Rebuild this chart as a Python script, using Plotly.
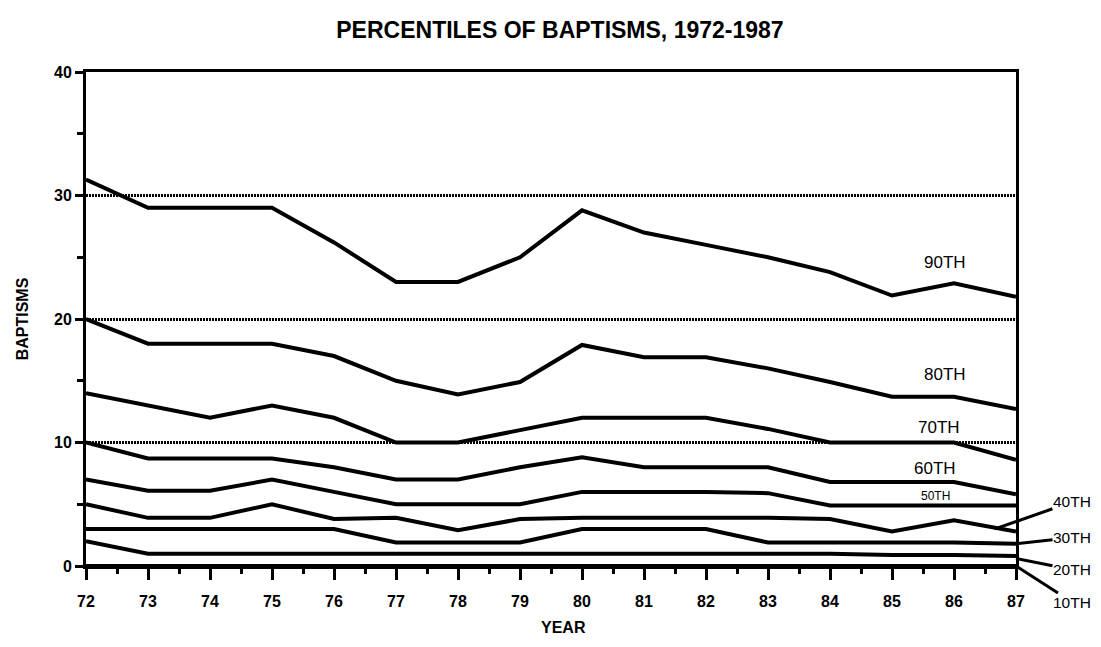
import plotly.graph_objects as go

years = list(range(72, 88))
p90 = [31.3, 29.0, 29.0, 29.0, 26.2, 23.0, 23.0, 25.0, 28.8, 27.0, 26.0, 25.0, 23.8, 21.9, 22.9, 21.8]
p80 = [20.0, 18.0, 18.0, 18.0, 17.0, 15.0, 13.9, 14.9, 17.9, 16.9, 16.9, 16.0, 14.9, 13.7, 13.7, 12.7]
p70 = [14.0, 13.0, 12.0, 13.0, 12.0, 10.0, 10.0, 11.0, 12.0, 12.0, 12.0, 11.1, 10.0, 10.0, 10.0, 8.6]
p60 = [10.0, 8.7, 8.7, 8.7, 8.0, 7.0, 7.0, 8.0, 8.8, 8.0, 8.0, 8.0, 6.8, 6.8, 6.8, 5.8]
p50 = [7.0, 6.1, 6.1, 7.0, 6.0, 5.0, 5.0, 5.0, 6.0, 6.0, 6.0, 5.9, 4.9, 4.9, 4.9, 4.9]
p40 = [5.0, 3.9, 3.9, 5.0, 3.8, 3.9, 2.9, 3.8, 3.9, 3.9, 3.9, 3.9, 3.8, 2.8, 3.7, 2.8]
p30 = [3.0, 3.0, 3.0, 3.0, 3.0, 1.9, 1.9, 1.9, 3.0, 3.0, 3.0, 1.9, 1.9, 1.9, 1.9, 1.8]
p20 = [2.0, 1.0, 1.0, 1.0, 1.0, 1.0, 1.0, 1.0, 1.0, 1.0, 1.0, 1.0, 1.0, 0.9, 0.9, 0.8]
p10 = [0.0] * 16

series = [("90TH", p90), ("80TH", p80), ("70TH", p70), ("60TH", p60), ("50TH", p50),
          ("40TH", p40), ("30TH", p30), ("20TH", p20), ("10TH", p10)]

x_tick_labels = [str(y) for y in years]
y_tick_vals = [0, 10, 20, 30, 40]
y_tick_labels = ["0", "10", "20", "30", "40"]
FONT = "Arial, Liberation Sans, Helvetica, sans-serif"

fig = go.Figure()
for name, vals in series:
    fig.add_trace(go.Scatter(x=years, y=vals, mode="lines", name=name,
                             line=dict(color="black", width=4),
                             cliponaxis=False, showlegend=False))

inner = [("90TH", 85.85, 24.6, 17), ("80TH", 85.85, 15.5, 17), ("70TH", 85.75, 11.2, 17),
         ("60TH", 85.7, 7.9, 17), ("50TH", 85.7, 5.7, 12)]
annotations = []
for txt, x, y, sz in inner:
    annotations.append(dict(x=x, y=y, xref="x", yref="y", text=txt, showarrow=False,
                            font=dict(family=FONT, size=sz, color="black")))

outer = [("40TH", 86.66, 3.0, 77, -27), ("30TH", 87, 1.8, 56, -6),
         ("20TH", 87, 0.6, 56, 11), ("10TH", 87, 0.0, 56, 36)]
for txt, x, y, ax, ay in outer:
    annotations.append(dict(x=x, y=y, xref="x", yref="y", text=txt, showarrow=True,
                            arrowhead=0, arrowwidth=3, arrowcolor="black", borderpad=0,
                            ax=ax, ay=ay, font=dict(family=FONT, size=15.5, color="black")))

# x-axis title placed as a paper annotation for exact position
annotations.append(dict(x=0.513, y=-0.124, xref="paper", yref="paper", text="<b>YEAR</b>",
                        showarrow=False, xanchor="center", yanchor="middle",
                        font=dict(family=FONT, size=16, color="black")))

# page body has an 8px margin: figure is sized so the plot lands where the reference has it
fig.update_layout(
    width=1093, height=631,
    margin=dict(l=78, r=85, t=64, b=73),
    paper_bgcolor="white", plot_bgcolor="white",
    title=dict(text="<b>PERCENTILES OF BAPTISMS, 1972-1987</b>", x=0.505, xanchor="center",
               y=0.965, yanchor="middle", font=dict(family=FONT, size=23, color="black")),
    font=dict(family=FONT, color="black"),
    annotations=annotations,
)

fig.update_xaxes(
    range=[72, 87], tickvals=years, ticktext=["<b>%s</b>" % t for t in x_tick_labels],
    ticks="outside", ticklen=11, tickwidth=3, tickcolor="black", ticklabelstandoff=8,
    tickfont=dict(family=FONT, size=16, color="black"), automargin=False,
    showline=True, linewidth=3, linecolor="black", mirror=True,
    showgrid=False, zeroline=False,
    minor=dict(tickvals=[y + 0.5 for y in years[:-1]], ticks="outside", ticklen=5,
               tickwidth=3, tickcolor="black", showgrid=False),
)
fig.update_yaxes(
    range=[0, 40], tickvals=y_tick_vals, ticktext=["<b>%s</b>" % t for t in y_tick_labels],
    ticks="outside", ticklen=8, tickwidth=3, tickcolor="black",
    tickfont=dict(family=FONT, size=16, color="black"), automargin=False,
    showline=True, linewidth=3, linecolor="black", mirror=True,
    showgrid=True, gridcolor="black", gridwidth=2.5, griddash="2px,1px", zeroline=False,
    minor=dict(tickvals=[5, 15, 25, 35], ticks="outside", ticklen=6, tickwidth=3,
               tickcolor="black", showgrid=False),
    title=dict(text="<b>BAPTISMS</b>", font=dict(family=FONT, size=16, color="black"), standoff=22),
)

fig.write_html("out.html")
